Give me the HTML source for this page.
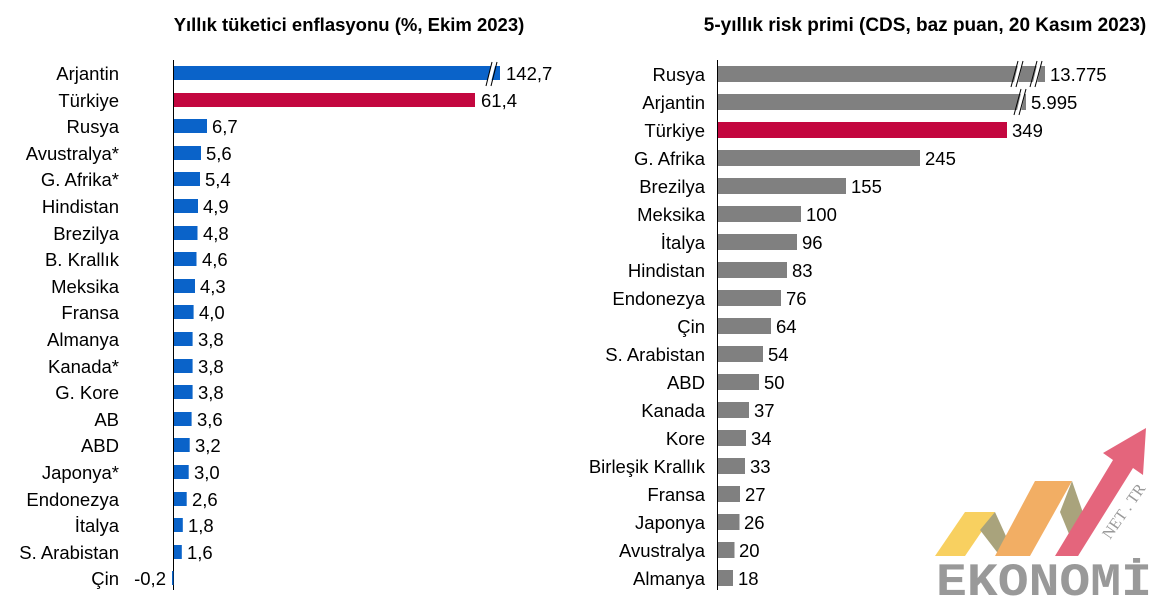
<!DOCTYPE html>
<html><head><meta charset="utf-8"><style>
html,body{margin:0;padding:0;background:#fff;}
svg text{font-family:"Liberation Sans",Arial,sans-serif;font-size:18.5px;fill:#000;}
</style></head><body>
<svg width="1160" height="603" viewBox="0 0 1160 603" xmlns="http://www.w3.org/2000/svg">
<text x="349" y="31" text-anchor="middle" style="font-weight:bold;font-size:18.5px">Yıllık tüketici enflasyonu (%, Ekim 2023)</text>
<text x="925" y="31" text-anchor="middle" style="font-weight:bold;font-size:19px">5-yıllık risk primi (CDS, baz puan, 20 Kasım 2023)</text>
<line x1="173.5" y1="60" x2="173.5" y2="590" stroke="#000" stroke-width="1"/>
<line x1="717.5" y1="60" x2="717.5" y2="590" stroke="#000" stroke-width="1"/>
<g id="left">
<rect x="174" y="66" width="326" height="14" fill="#0a63c9"/>
<rect x="174" y="93" width="301" height="14" fill="#c3073f"/>
<rect x="174" y="119" width="33" height="14" fill="#0a63c9"/>
<rect x="174" y="146" width="27" height="14" fill="#0a63c9"/>
<rect x="174" y="172" width="26" height="14" fill="#0a63c9"/>
<rect x="174" y="199" width="24" height="14" fill="#0a63c9"/>
<rect x="174" y="226" width="23.5" height="14" fill="#0a63c9"/>
<rect x="174" y="252" width="22.5" height="14" fill="#0a63c9"/>
<rect x="174" y="279" width="21" height="14" fill="#0a63c9"/>
<rect x="174" y="305" width="19.6" height="14" fill="#0a63c9"/>
<rect x="174" y="332" width="18.6" height="14" fill="#0a63c9"/>
<rect x="174" y="359" width="18.6" height="14" fill="#0a63c9"/>
<rect x="174" y="385" width="18.6" height="14" fill="#0a63c9"/>
<rect x="174" y="412" width="17.6" height="14" fill="#0a63c9"/>
<rect x="174" y="438" width="15.7" height="14" fill="#0a63c9"/>
<rect x="174" y="465" width="14.7" height="14" fill="#0a63c9"/>
<rect x="174" y="492" width="12.7" height="14" fill="#0a63c9"/>
<rect x="174" y="518" width="8.8" height="14" fill="#0a63c9"/>
<rect x="174" y="545" width="7.8" height="14" fill="#0a63c9"/>
<rect x="172" y="571" width="1.5" height="14" fill="#0a63c9"/>
<line x1="488" y1="86" x2="494" y2="62" stroke="#fff" stroke-width="4"/>
<line x1="486" y1="86" x2="492" y2="62" stroke="#000" stroke-width="1"/>
<line x1="491" y1="86" x2="497" y2="62" stroke="#000" stroke-width="1"/>
</g>
<g text-anchor="end">
<text x="119" y="80">Arjantin</text><text x="119" y="107">Türkiye</text><text x="119" y="133">Rusya</text><text x="119" y="160">Avustralya*</text><text x="119" y="186">G. Afrika*</text><text x="119" y="213">Hindistan</text><text x="119" y="240">Brezilya</text><text x="119" y="266">B. Krallık</text><text x="119" y="293">Meksika</text><text x="119" y="319">Fransa</text><text x="119" y="346">Almanya</text><text x="119" y="373">Kanada*</text><text x="119" y="399">G. Kore</text><text x="119" y="426">AB</text><text x="119" y="452">ABD</text><text x="119" y="479">Japonya*</text><text x="119" y="506">Endonezya</text><text x="119" y="532">İtalya</text><text x="119" y="559">S. Arabistan</text><text x="119" y="585">Çin</text>
<text x="166" y="585">-0,2</text>
</g>
<g>
<text x="506" y="80">142,7</text><text x="481" y="107">61,4</text><text x="212" y="133">6,7</text><text x="206" y="160">5,6</text><text x="205" y="186">5,4</text><text x="203" y="213">4,9</text><text x="203" y="240">4,8</text><text x="202" y="266">4,6</text><text x="200" y="293">4,3</text><text x="199" y="319">4,0</text><text x="198" y="346">3,8</text><text x="198" y="373">3,8</text><text x="198" y="399">3,8</text><text x="197" y="426">3,6</text><text x="195" y="452">3,2</text><text x="194" y="479">3,0</text><text x="192" y="506">2,6</text><text x="188" y="532">1,8</text><text x="187" y="559">1,6</text>
</g>
<g fill="#808080">
<rect x="718" y="66" width="327" height="16"/>
<rect x="718" y="94" width="308" height="16"/>
<rect x="718" y="122" width="289" height="16" fill="#c3073f"/>
<rect x="718" y="150" width="202" height="16"/>
<rect x="718" y="178" width="128" height="16"/>
<rect x="718" y="206" width="83" height="16"/>
<rect x="718" y="234" width="79" height="16"/>
<rect x="718" y="262" width="69" height="16"/>
<rect x="718" y="290" width="63" height="16"/>
<rect x="718" y="318" width="53" height="16"/>
<rect x="718" y="346" width="45" height="16"/>
<rect x="718" y="374" width="41" height="16"/>
<rect x="718" y="402" width="31" height="16"/>
<rect x="718" y="430" width="28" height="16"/>
<rect x="718" y="458" width="27" height="16"/>
<rect x="718" y="486" width="22" height="16"/>
<rect x="718" y="514" width="21.5" height="16"/>
<rect x="718" y="542" width="16.5" height="16"/>
<rect x="718" y="570" width="15" height="16"/>
</g>
<g stroke-width="1">
<line x1="1015" y1="87" x2="1021" y2="61" stroke="#fff" stroke-width="4"/>
<line x1="1011" y1="87" x2="1018" y2="61" stroke="#000"/><line x1="1016" y1="87" x2="1023" y2="61" stroke="#000"/>
<line x1="1034" y1="87" x2="1040" y2="61" stroke="#fff" stroke-width="4"/>
<line x1="1030" y1="87" x2="1037" y2="61" stroke="#000"/><line x1="1035" y1="87" x2="1042" y2="61" stroke="#000"/>
<line x1="1018" y1="115" x2="1024" y2="89" stroke="#fff" stroke-width="4"/>
<line x1="1014" y1="115" x2="1021" y2="89" stroke="#000"/><line x1="1019" y1="115" x2="1026" y2="89" stroke="#000"/>
</g>
<g text-anchor="end">
<text x="705" y="81">Rusya</text><text x="705" y="109">Arjantin</text><text x="705" y="137">Türkiye</text><text x="705" y="165">G. Afrika</text><text x="705" y="193">Brezilya</text><text x="705" y="221">Meksika</text><text x="705" y="249">İtalya</text><text x="705" y="277">Hindistan</text><text x="705" y="305">Endonezya</text><text x="705" y="333">Çin</text><text x="705" y="361">S. Arabistan</text><text x="705" y="389">ABD</text><text x="705" y="417">Kanada</text><text x="705" y="445">Kore</text><text x="705" y="473">Birleşik Krallık</text><text x="705" y="501">Fransa</text><text x="705" y="529">Japonya</text><text x="705" y="557">Avustralya</text><text x="705" y="585">Almanya</text>
</g>
<g>
<text x="1050" y="81">13.775</text><text x="1031" y="109">5.995</text><text x="1012" y="137">349</text><text x="925" y="165">245</text><text x="851" y="193">155</text><text x="806" y="221">100</text><text x="802" y="249">96</text><text x="792" y="277">83</text><text x="786" y="305">76</text><text x="776" y="333">64</text><text x="768" y="361">54</text><text x="764" y="389">50</text><text x="754" y="417">37</text><text x="751" y="445">34</text><text x="750" y="473">33</text><text x="745" y="501">27</text><text x="744" y="529">26</text><text x="739" y="557">20</text><text x="738" y="585">18</text>
</g>
<g opacity="0.85">
<polygon points="935,556 965,512 995,512 965,556" fill="#f7c845"/>
<polygon points="995,512 1015,556 1000,556 980,530" fill="#9b9466"/>
<polygon points="995,556 1035,481 1072,481 1030,556" fill="#f0a04a"/>
<polygon points="1072,481 1090,533 1078,556 1060,512" fill="#9b9466"/>
<polygon points="1055,556 1113,460 1103,453 1146,428 1143,475 1133,468 1078,556" fill="#e04b66"/>
<text x="1044" y="595" style="font-family:'Liberation Mono',monospace;font-size:46px;font-weight:bold;fill:#888" text-anchor="middle" textLength="216" lengthAdjust="spacingAndGlyphs">EKONOMİ</text>
<text x="1110" y="540" transform="rotate(-55 1110 540)" style="font-family:'Liberation Serif',serif;font-size:16px;fill:#888">NET . TR</text>
</g>
</svg>
</body></html>
